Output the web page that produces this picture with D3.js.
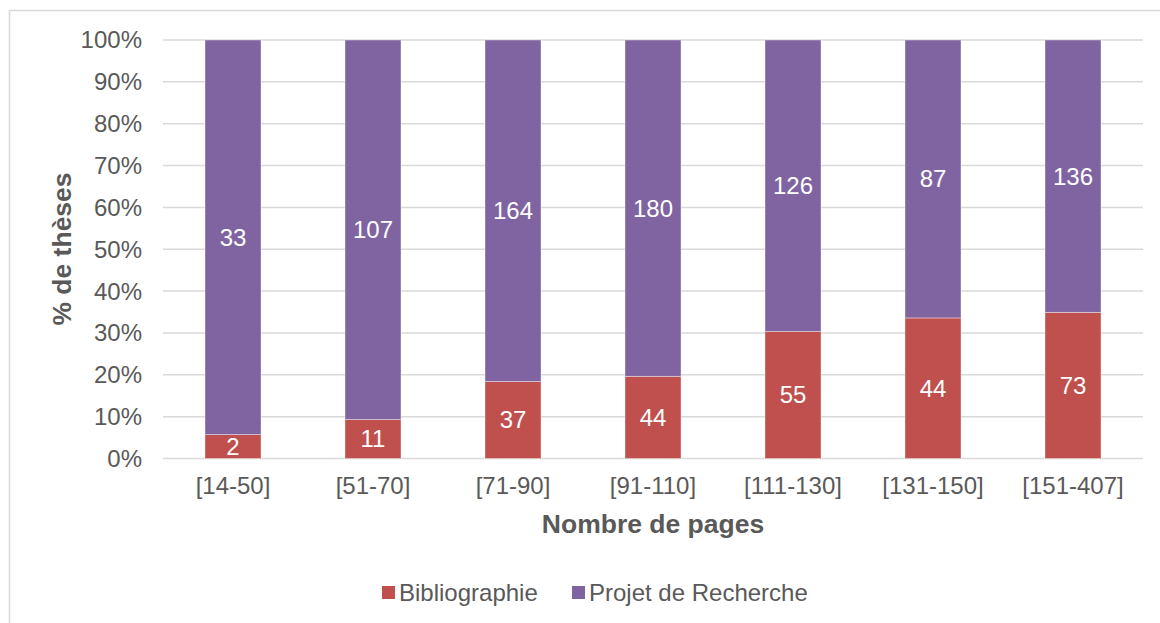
<!DOCTYPE html>
<html>
<head>
<meta charset="utf-8">
<script src="https://cdn.jsdelivr.net/npm/d3@7"></script>
<style>
  body { margin: 0; background: #fff; }
  svg text { font-family: "Liberation Sans", Arial, sans-serif; }
</style>
</head>
<body>
<script>
// data
const categories = ["[14-50]", "[51-70]", "[71-90]", "[91-110]", "[111-130]", "[131-150]", "[151-407]"]
const biblio = [2, 11, 37, 44, 55, 44, 73]
const projet = [33, 107, 164, 180, 126, 87, 136]
const seriesNames = ["Bibliographie", "Projet de Recherche"]
const colors = ["#C0504D", "#8064A2"]
const yTicks = [0, 0.1, 0.2, 0.3, 0.4, 0.5, 0.6, 0.7, 0.8, 0.9, 1]

const width = 1160, height = 623
const svg = d3.select("body").append("svg")
  .attr("width", width)
  .attr("height", height)

// chart border
svg.append("rect")
  .attr("x", 9.5).attr("y", 10.5)
  .attr("width", 1170).attr("height", 640)
  .attr("fill", "none")
  .attr("stroke", "#d9d9d9")
  .attr("stroke-width", 1.5)

const x = d3.scaleBand().domain(categories).range([163, 1143]).paddingInner(0.6).paddingOuter(0.3)
const y = d3.scaleLinear().domain([0, 1]).range([458.5, 40])

// gridlines
svg.append("g").selectAll("line")
  .data(yTicks)
  .join("line")
  .attr("x1", 163).attr("x2", 1143)
  .attr("y1", d => y(d)).attr("y2", d => y(d))
  .attr("stroke", "#d9d9d9")
  .attr("stroke-width", 1.5)

// y tick labels
svg.append("g").selectAll("text")
  .data(yTicks)
  .join("text")
  .attr("x", 142)
  .attr("y", d => y(d))
  .attr("dy", "0.35em")
  .attr("text-anchor", "end")
  .attr("font-size", 24)
  .attr("fill", "#595959")
  .text(d3.format(".0%"))

// stacked data
const table = categories.map((c, i) => {
  const total = biblio[i] + projet[i]
  return { cat: c, b: biblio[i] / total, p: projet[i] / total, bv: biblio[i], pv: projet[i] }
})
const stack = d3.stack().keys(["b", "p"])(table)

const layers = svg.append("g").selectAll("g")
  .data(stack)
  .join("g")
  .attr("fill", (d, i) => colors[i])

layers.selectAll("rect")
  .data(d => d)
  .join("rect")
  .attr("x", d => x(d.data.cat))
  .attr("width", x.bandwidth())
  .attr("y", d => y(d[1]))
  .attr("height", d => y(d[0]) - y(d[1]))
  .attr("stroke", "#fff")
  .attr("stroke-opacity", 0.5)
  .attr("stroke-width", 0.75)

// data labels
stack.forEach((layer, li) => {
  svg.append("g").selectAll("text")
    .data(layer)
    .join("text")
    .attr("x", d => x(d.data.cat) + x.bandwidth() / 2)
    .attr("y", d => (y(d[0]) + y(d[1])) / 2)
    .attr("dy", "0.35em")
    .attr("text-anchor", "middle")
    .attr("font-size", 24)
    .attr("fill", "#fff")
    .text(d => li === 0 ? d.data.bv : d.data.pv)
})

// x labels
svg.append("g").selectAll("text")
  .data(categories)
  .join("text")
  .attr("x", d => x(d) + x.bandwidth() / 2)
  .attr("y", 494)
  .attr("text-anchor", "middle")
  .attr("font-size", 24)
  .attr("fill", "#595959")
  .text(d => d)

// axis titles
svg.append("text")
  .attr("x", 653).attr("y", 533)
  .attr("text-anchor", "middle")
  .attr("font-size", 26.5)
  .attr("font-weight", "bold")
  .attr("fill", "#595959")
  .text("Nombre de pages")

svg.append("text")
  .attr("transform", "translate(71,249) rotate(-90)")
  .attr("text-anchor", "middle")
  .attr("font-size", 26.5)
  .attr("font-weight", "bold")
  .attr("fill", "#595959")
  .text("% de thèses")

// legend
const legendX = [382, 572]
const legend = svg.append("g").selectAll("g")
  .data(seriesNames)
  .join("g")
  .attr("transform", (d, i) => `translate(${legendX[i]},586)`)
legend.append("rect")
  .attr("width", 13).attr("height", 13)
  .attr("fill", (d, i) => colors[i])
legend.append("text")
  .attr("x", 17).attr("y", 7)
  .attr("dy", "0.35em")
  .attr("font-size", 24)
  .attr("fill", "#595959")
  .text(d => d)
</script>
</body>
</html>
